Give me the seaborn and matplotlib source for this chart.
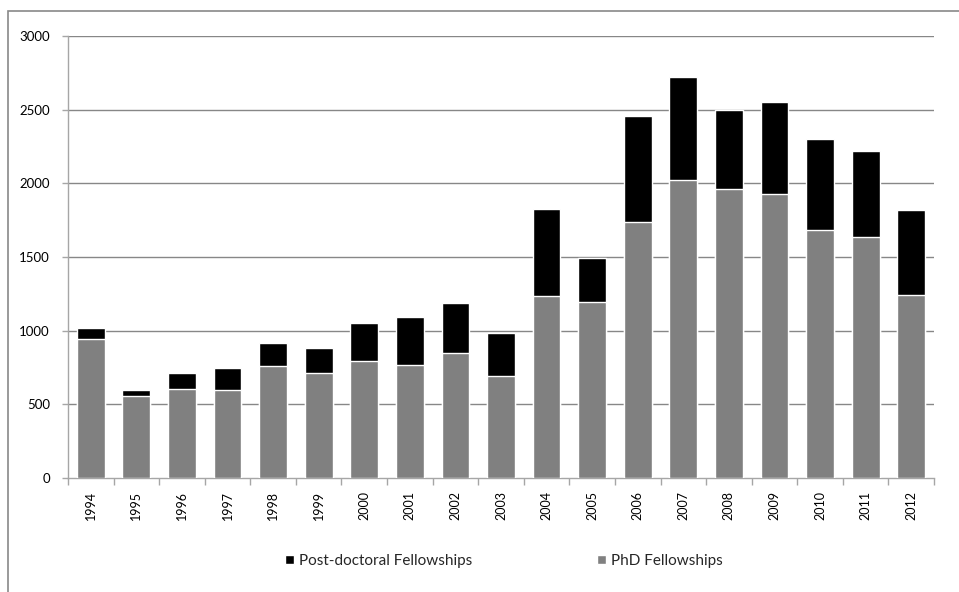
import matplotlib
matplotlib.use("Agg")
import matplotlib.pyplot as plt
from matplotlib.patches import Patch, Rectangle
from matplotlib.ticker import FixedLocator, MultipleLocator
import seaborn as sns
import pandas as pd
import numpy as np

years = ["1994", "1995", "1996", "1997", "1998", "1999", "2000", "2001", "2002", "2003",
         "2004", "2005", "2006", "2007", "2008", "2009", "2010", "2011", "2012"]
phd = [945, 555, 605, 600, 760, 715, 795, 765, 850, 690,
       1235, 1195, 1740, 2025, 1960, 1925, 1680, 1635, 1245]
postdoc = [70, 40, 110, 145, 155, 170, 255, 330, 340, 295,
           590, 300, 720, 695, 540, 625, 620, 585, 575]

df = pd.DataFrame({"year": years, "phd": phd, "postdoc": postdoc})
df["total"] = df["phd"] + df["postdoc"]

sns.set_theme(style="white")
plt.rcParams["font.family"] = ["Lato", "DejaVu Sans"]

fig = plt.figure(figsize=(9.59, 5.92), dpi=100)
ax = fig.add_axes([68 / 959, 1 - 478 / 592, (934 - 68) / 959, (478 - 36) / 592])

grid_c = "#878787"
axis_c = "#a6a6a6"

# stacked columns: full height in black, PhD part on top of it in grey
sns.barplot(data=df, x="year", y="total", color="#000000", width=0.61,
            saturation=1, ax=ax, zorder=3)
sns.barplot(data=df, x="year", y="phd", color="#808080", width=0.61,
            saturation=1, ax=ax, zorder=4)

ax.set_xlim(-0.5, len(years) - 0.5)
ax.set_ylim(0, 3000)
ax.yaxis.set_major_locator(MultipleLocator(500))
ax.set_xlabel("")
ax.set_ylabel("")

for y in range(500, 3001, 500):
    ax.axhline(y, color=grid_c, lw=1.0, zorder=1)

for side in ["top", "right"]:
    ax.spines[side].set_visible(False)
ax.spines["left"].set_color(axis_c)
ax.spines["bottom"].set_color(axis_c)
ax.spines["left"].set_linewidth(1.0)
ax.spines["bottom"].set_linewidth(1.0)

ax.tick_params(axis="y", which="major", left=True, length=4, width=1,
               color=axis_c, pad=9, labelsize=9.5, labelcolor="#000000")
ax.tick_params(axis="x", which="major", bottom=False, length=0, pad=9,
               labelsize=9, labelcolor="#000000", labelrotation=90)
ax.xaxis.set_minor_locator(FixedLocator(np.arange(-0.5, len(years), 1.0)))
ax.tick_params(axis="x", which="minor", bottom=True, length=5, width=1,
               color=axis_c)

handles = [Patch(facecolor="#000000", label="Post-doctoral Fellowships"),
           Patch(facecolor="#808080", label="PhD Fellowships")]
fig.legend(handles=handles, loc="center", bbox_to_anchor=(504 / 959, 1 - 561 / 592),
           ncol=2, frameon=False, fontsize=11, handlelength=0.55, handleheight=0.55,
           handletextpad=0.35, columnspacing=8.2)

# outer chart frame
fig.add_artist(Rectangle((8 / 959, -0.1), 1.2, (592 - 11) / 592 + 0.1,
                         transform=fig.transFigure, fill=False,
                         edgecolor="#898989", lw=1.2))

fig.savefig("out.png", dpi=100)
